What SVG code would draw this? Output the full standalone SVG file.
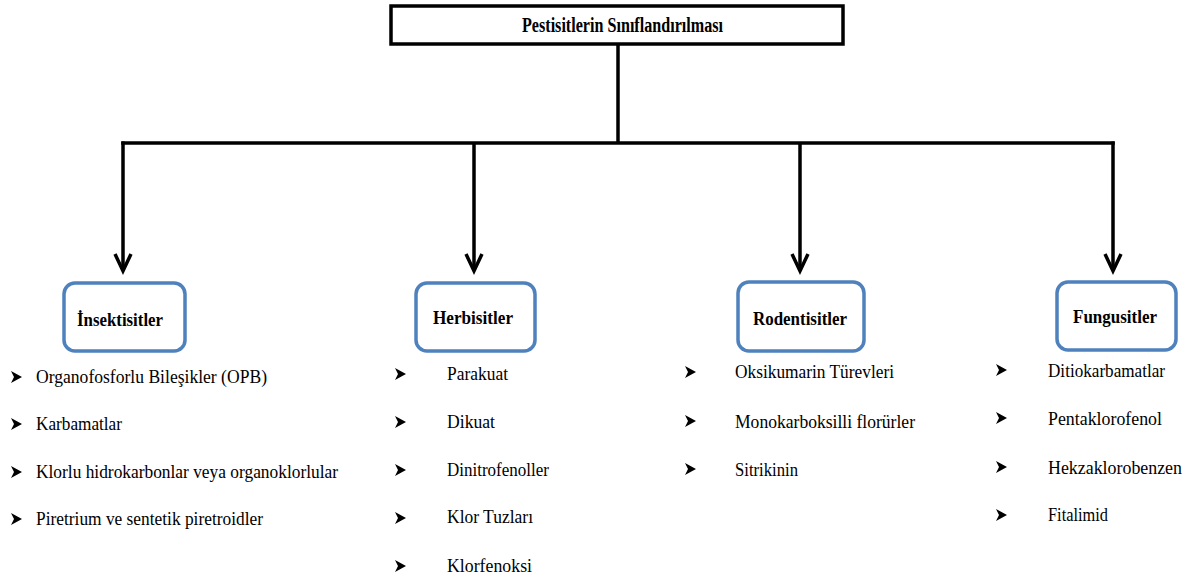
<svg xmlns="http://www.w3.org/2000/svg" xmlns:xlink="http://www.w3.org/1999/xlink" width="1197" height="581" viewBox="0 0 1197 581" font-family="Liberation Serif, Times New Roman, DejaVu Serif, serif">
<style>
.title{font-weight:bold;font-size:20px;fill:#000}
.head{font-weight:bold;font-size:19.5px;fill:#000;text-anchor:middle}
.item{font-size:19.5px;fill:#000}
.cat{fill:#fff;stroke:#4f81bd;stroke-width:3.5}
.conn{fill:none;stroke:#000;stroke-width:3.5}
.head-arrow{fill:none;stroke:#000;stroke-width:3.5;stroke-linejoin:miter}
</style>
<defs>
<path id="bul" d="M0,-6 L11,0 L0,6 L3,0 Z" fill="#000"/>
<path id="ah" d="M-8,-17 L0,0 L8,-17" class="head-arrow"/>
</defs>
<rect width="1197" height="581" fill="#fff"/>

<g id="root">
<rect x="391" y="6" width="452" height="38" fill="#fff" stroke="#000" stroke-width="3.5"/>
<text class="title" x="522" y="32" textLength="201" lengthAdjust="spacingAndGlyphs" font-family="Liberation Serif, serif">Pestisitlerin Sınıflandırılması</text>
</g>

<g id="connectors">
<path class="conn" d="M618,44 V143"/>
<path class="conn" d="M121.25,143 H1114.75"/>
<path class="conn" d="M123,141.5 V269"/>
<path class="conn" d="M474,143 V269"/>
<path class="conn" d="M800,143 V269"/>
<path class="conn" d="M1113,141.5 V269"/>
<use xlink:href="#ah" x="123" y="271"/>
<use xlink:href="#ah" x="474" y="271"/>
<use xlink:href="#ah" x="800" y="271"/>
<use xlink:href="#ah" x="1113" y="271"/>
</g>

<g id="insektisitler" font-family="Liberation Serif, serif">
<rect class="cat" x="64" y="283" width="121" height="68" rx="11"/>
<text class="head" x="120" y="326" textLength="86" lengthAdjust="spacingAndGlyphs">İnsektisitler</text>
<use xlink:href="#bul" x="11" y="377"/>
<text class="item" x="36" y="383" textLength="231" lengthAdjust="spacingAndGlyphs">Organofosforlu Bileşikler (OPB)</text>
<use xlink:href="#bul" x="11" y="424"/>
<text class="item" x="36" y="430" textLength="86" lengthAdjust="spacingAndGlyphs">Karbamatlar</text>
<use xlink:href="#bul" x="11" y="472"/>
<text class="item" x="36" y="478" textLength="302" lengthAdjust="spacingAndGlyphs">Klorlu hidrokarbonlar veya organoklorlular</text>
<use xlink:href="#bul" x="11" y="519"/>
<text class="item" x="36" y="525" textLength="227" lengthAdjust="spacingAndGlyphs">Piretrium ve sentetik piretroidler</text>
</g>

<g id="herbisitler" font-family="Liberation Serif, serif">
<rect class="cat" x="416" y="283" width="119" height="68" rx="11"/>
<text class="head" x="473" y="324" textLength="80" lengthAdjust="spacingAndGlyphs">Herbisitler</text>
<use xlink:href="#bul" x="395" y="374"/>
<text class="item" x="447" y="380" textLength="61" lengthAdjust="spacingAndGlyphs">Parakuat</text>
<use xlink:href="#bul" x="395" y="422"/>
<text class="item" x="447" y="428" textLength="48" lengthAdjust="spacingAndGlyphs">Dikuat</text>
<use xlink:href="#bul" x="395" y="470"/>
<text class="item" x="447" y="476" textLength="102" lengthAdjust="spacingAndGlyphs">Dinitrofenoller</text>
<use xlink:href="#bul" x="395" y="518"/>
<text class="item" x="447" y="523" textLength="86" lengthAdjust="spacingAndGlyphs">Klor Tuzları</text>
<use xlink:href="#bul" x="395" y="566"/>
<text class="item" x="447" y="572" textLength="85" lengthAdjust="spacingAndGlyphs">Klorfenoksi</text>
</g>

<g id="rodentisitler" font-family="Liberation Serif, serif">
<rect class="cat" x="738" y="282" width="126" height="69" rx="11"/>
<text class="head" x="800" y="325" textLength="94" lengthAdjust="spacingAndGlyphs">Rodentisitler</text>
<use xlink:href="#bul" x="685" y="372"/>
<text class="item" x="735" y="378" textLength="159" lengthAdjust="spacingAndGlyphs">Oksikumarin Türevleri</text>
<use xlink:href="#bul" x="685" y="421"/>
<text class="item" x="735" y="428" textLength="180" lengthAdjust="spacingAndGlyphs">Monokarboksilli florürler</text>
<use xlink:href="#bul" x="685" y="469"/>
<text class="item" x="735" y="476" textLength="63" lengthAdjust="spacingAndGlyphs">Sitrikinin</text>
</g>

<g id="fungusitler" font-family="Liberation Serif, serif">
<rect class="cat" x="1057" y="282" width="119" height="68" rx="11"/>
<text class="head" x="1115" y="323" textLength="84" lengthAdjust="spacingAndGlyphs">Fungusitler</text>
<use xlink:href="#bul" x="996" y="370"/>
<text class="item" x="1048" y="377" textLength="117" lengthAdjust="spacingAndGlyphs">Ditiokarbamatlar</text>
<use xlink:href="#bul" x="996" y="418"/>
<text class="item" x="1048" y="425" textLength="114" lengthAdjust="spacingAndGlyphs">Pentaklorofenol</text>
<use xlink:href="#bul" x="996" y="467"/>
<text class="item" x="1048" y="474" textLength="134" lengthAdjust="spacingAndGlyphs">Hekzaklorobenzen</text>
<use xlink:href="#bul" x="996" y="515"/>
<text class="item" x="1048" y="521" textLength="60" lengthAdjust="spacingAndGlyphs">Fitalimid</text>
</g>
</svg>
